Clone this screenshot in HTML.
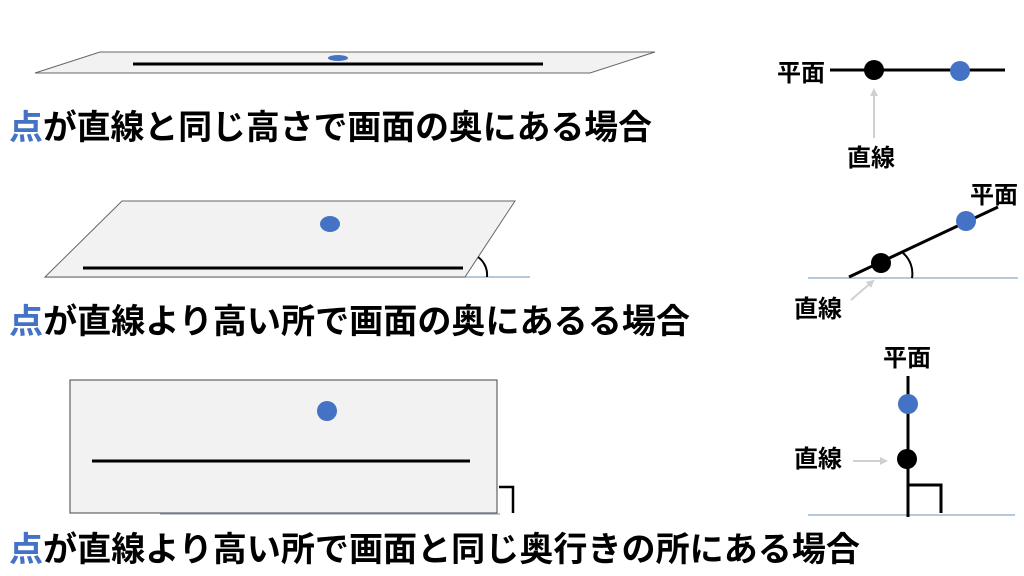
<!DOCTYPE html>
<html><head><meta charset="utf-8"><style>
html,body{margin:0;padding:0;background:#fff;width:1024px;height:576px;overflow:hidden}
text{font-family:"Liberation Sans","Noto Sans CJK JP",sans-serif;font-weight:bold}
</style></head><body>
<svg width="1024" height="576" viewBox="0 0 1024 576" xmlns="http://www.w3.org/2000/svg">
<defs><marker id="ah" markerWidth="8" markerHeight="8" refX="6" refY="4" orient="auto" markerUnits="userSpaceOnUse"><path d="M0,0 L8,4 L0,8 z" fill="#d0d0d0"/></marker></defs>
<!-- 1 -->
<polygon points="100,52 655,52 590,73 35,73" fill="#f2f2f2" stroke="#666" stroke-width="1"/>
<line x1="133" y1="64" x2="543" y2="64" stroke="#000" stroke-width="3"/>
<ellipse cx="338" cy="58" rx="10" ry="3" fill="#4472c4"/>
<text x="9" y="139" font-size="34" textLength="643" lengthAdjust="spacingAndGlyphs" fill="#000"><tspan fill="#4472c4">点</tspan>が直線と同じ高さで画面の奥にある場合</text>
<!-- 2 -->
<line x1="45" y1="277" x2="530" y2="277" stroke="#9fb6cc" stroke-width="1.5"/>
<polygon points="122,201 515,201 465,277 45,277" fill="#f2f2f2" stroke="#666" stroke-width="1"/>
<line x1="83" y1="268" x2="463" y2="268" stroke="#000" stroke-width="3"/>
<ellipse cx="330" cy="224" rx="10" ry="8" fill="#4472c4"/>
<path d="M478,257 A22,22 0 0 1 487,277" fill="none" stroke="#000" stroke-width="2"/>
<text x="9" y="333" font-size="34" textLength="681" lengthAdjust="spacingAndGlyphs" fill="#000"><tspan fill="#4472c4">点</tspan>が直線より高い所で画面の奥にあるる場合</text>
<!-- 3 -->
<line x1="160" y1="514" x2="500" y2="514" stroke="#9fb6cc" stroke-width="1.5"/>
<rect x="70" y="380" width="427" height="133" fill="#f2f2f2" stroke="#444" stroke-width="1"/>
<line x1="92" y1="461" x2="470" y2="461" stroke="#000" stroke-width="3"/>
<circle cx="327" cy="411" r="10" fill="#4472c4"/>
<polyline points="499,487 513,487 513,513" fill="none" stroke="#000" stroke-width="2.5"/>
<text x="9" y="561" font-size="34" textLength="851" lengthAdjust="spacingAndGlyphs" fill="#000"><tspan fill="#4472c4">点</tspan>が直線より高い所で画面と同じ奥行きの所にある場合</text>
<!-- right top -->
<line x1="830" y1="70" x2="1005" y2="70" stroke="#000" stroke-width="3"/>
<circle cx="874" cy="70" r="10" fill="#000"/>
<circle cx="960" cy="71" r="10" fill="#4472c4"/>
<text x="777" y="81" font-size="24">平面</text>
<line x1="874" y1="138" x2="874" y2="90" stroke="#d0d0d0" stroke-width="2" marker-end="url(#ah)"/>
<text x="847" y="166" font-size="24">直線</text>
<!-- right mid -->
<line x1="808" y1="278" x2="1018" y2="278" stroke="#9fb6cc" stroke-width="1.5"/>
<line x1="849" y1="277" x2="998" y2="207" stroke="#000" stroke-width="3"/>
<circle cx="881" cy="263" r="10" fill="#000"/>
<circle cx="966" cy="221" r="10" fill="#4472c4"/>
<path d="M903,253 A27,27 0 0 1 912,278" fill="none" stroke="#000" stroke-width="2"/>
<text x="970" y="203" font-size="24">平面</text>
<line x1="851" y1="300" x2="873" y2="281" stroke="#d0d0d0" stroke-width="2" marker-end="url(#ah)"/>
<text x="794" y="317" font-size="24">直線</text>
<!-- right bottom -->
<line x1="808" y1="515" x2="1015" y2="515" stroke="#9fb6cc" stroke-width="1.5"/>
<line x1="908" y1="376" x2="908" y2="517" stroke="#000" stroke-width="3"/>
<circle cx="908" cy="404" r="10" fill="#4472c4"/>
<circle cx="907" cy="459" r="10" fill="#000"/>
<polyline points="908,485 941,485 941,513" fill="none" stroke="#000" stroke-width="3"/>
<text x="883" y="366" font-size="24">平面</text>
<line x1="853" y1="461" x2="886" y2="461" stroke="#d0d0d0" stroke-width="2" marker-end="url(#ah)"/>
<text x="794" y="467" font-size="24">直線</text>
</svg>
</body></html>
